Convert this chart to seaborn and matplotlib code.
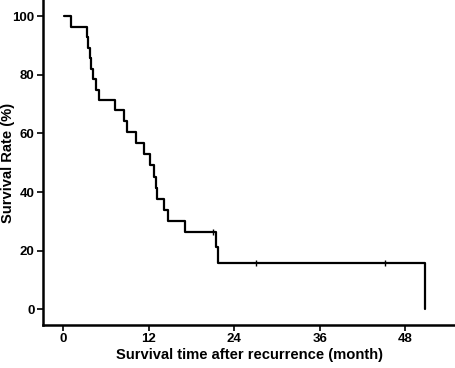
import pandas as pd
import seaborn as sns
import matplotlib
matplotlib.use("Agg")
import matplotlib.pyplot as plt

# step times (months) and survival (%)
months = [0.1, 1.1, 3.4, 3.5, 3.7, 3.9, 4.2, 4.6, 5.0, 7.3, 8.6, 9.0, 10.2,
          11.4, 12.2, 12.7, 13.0, 13.2, 14.1, 14.7, 17.1, 21.5, 21.7, 50.8, 50.8]
survival = [100, 96.4, 92.9, 89.3, 85.7, 82.1, 78.6, 75.0, 71.4, 67.9, 64.3,
            60.6, 56.8, 53.0, 49.1, 45.3, 41.5, 37.7, 33.9, 30.1, 26.4, 21.1,
            15.9, 15.9, 0]
censor_months = [21.0, 27.1, 45.1]
censor_survival = [26.4, 15.9, 15.9]
xticks = [0, 12, 24, 36, 48]
yticks = [0, 20, 40, 60, 80, 100]

sns.set_style("ticks", {'axes.edgecolor': 'black', 'xtick.color': 'black',
                        'ytick.color': 'black', 'text.color': 'black',
                        'axes.labelcolor': 'black'})
plt.rcParams['font.family'] = ['Liberation Sans', 'DejaVu Sans']

df = pd.DataFrame({'month': months, 'survival': survival})
cens = pd.DataFrame({'month': censor_months, 'survival': censor_survival})

fig = plt.figure(figsize=(4.56, 3.68), dpi=100)
ax = fig.add_axes([0.094, 0.117, 0.906, 0.883])

sns.lineplot(data=df, x='month', y='survival', drawstyle='steps-post',
             color='black', linewidth=1.6, ax=ax, estimator=None, sort=False)
sns.scatterplot(data=cens, x='month', y='survival', marker='|', s=14,
                color='black', linewidth=1.0, ax=ax)

ax.set_xlim(-2.85, 55.1)
ax.set_ylim(-5.4, 105.6)
ax.set_xticks(xticks)
ax.set_yticks(yticks)
ax.tick_params(axis='both', direction='out', length=4, width=1.2, labelsize=9.5, pad=2)
for lab in ax.get_xticklabels() + ax.get_yticklabels():
    lab.set_fontweight('bold')
for side in ['left', 'bottom']:
    ax.spines[side].set_linewidth(1.8)
sns.despine(ax=ax)

ax.set_xlabel('Survival time after recurrence (month)', fontsize=10.6, fontweight='bold')
ax.set_ylabel('Survival Rate (%)', fontsize=10.6, fontweight='bold')
ax.xaxis.set_label_coords(0.5, -0.072)
ax.yaxis.set_label_coords(-0.068, 0.5)

fig.savefig('out.png', dpi=100)
